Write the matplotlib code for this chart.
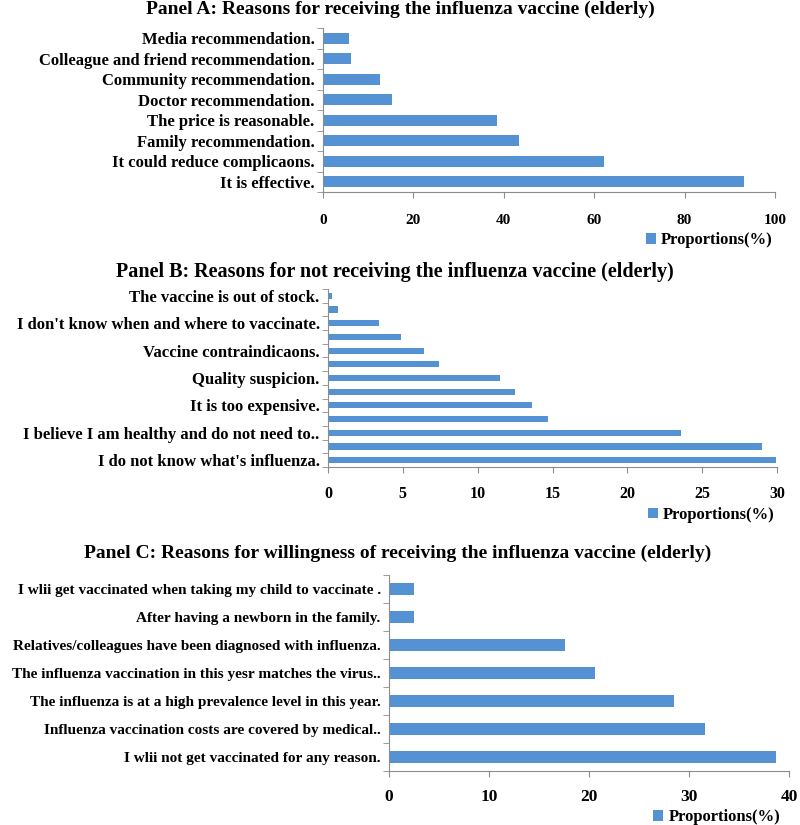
import matplotlib
matplotlib.use("Agg")
import matplotlib.pyplot as plt
import matplotlib.ticker as ticker
import numpy as np

plt.rcParams['font.family'] = ['Liberation Serif', 'DejaVu Serif']
plt.rcParams['font.weight'] = 'bold'

BAR_COLOR = '#5592D4'
AXIS_COLOR = '#8C8C8C'

########################### data (top to bottom) #############################
title_a = "Panel A: Reasons for receiving the influenza vaccine (elderly)"
labels_a = ["Media recommendation.",
            "Colleague and friend recommendation.",
            "Community recommendation.",
            "Doctor recommendation.",
            "The price is reasonable.",
            "Family recommendation.",
            "It could reduce complicaons.",
            "It is effective."]
values_a = [5.8, 6.1, 12.5, 15.3, 38.5, 43.4, 62.2, 93.1]
ticks_a = [0, 20, 40, 60, 80, 100]

title_b = "Panel B: Reasons for not receiving the influenza vaccine (elderly)"
labels_b = ["The vaccine is out of stock.", "",
            "I don't know when and where to vaccinate.", "",
            "Vaccine contraindicaons.", "",
            "Quality suspicion.", "",
            "It is too expensive.", "",
            "I believe I am healthy and do not need to..", "",
            "I do not know what's influenza."]
values_b = [0.3, 0.7, 3.4, 4.9, 6.4, 7.4, 11.5, 12.5, 13.6, 14.7, 23.6, 29.0, 29.9]
ticks_b = [0, 5, 10, 15, 20, 25, 30]

title_c = "Panel C: Reasons for willingness of receiving the influenza vaccine (elderly)"
labels_c = ["I wlii get vaccinated when taking my child to vaccinate .",
            "After having a newborn in the family.",
            "Relatives/colleagues have been diagnosed with influenza.",
            "The influenza vaccination in this yesr matches the virus..",
            "The influenza is at a high prevalence level in this year.",
            "Influenza vaccination costs are covered by medical..",
            "I wlii not get vaccinated for any reason."]
values_c = [2.5, 2.5, 17.6, 20.6, 28.5, 31.6, 38.7]
ticks_c = [0, 10, 20, 30, 40]

legend_label = "Proportions(%)"

W, H = 800, 825
fig = plt.figure(figsize=(W / 100, H / 100), dpi=100)


def px_axes(left, top, right, bottom):
    return fig.add_axes([left / W, 1 - bottom / H, (right - left) / W, (bottom - top) / H])


def panel(ax, labels, values, ticks, bar_h, lab_fs, tick_fs, tick_pad, leg_x, leg_y):
    y = np.arange(len(values))
    bars = ax.barh(y, values, height=bar_h, color=BAR_COLOR, label=legend_label)
    ax.set_ylim(len(values) - 0.5, -0.5)
    ax.set_xlim(ticks[0], ticks[-1])
    ax.set_xticks(ticks)
    ax.set_yticks(y)
    ax.set_yticklabels(labels, fontsize=lab_fs, fontweight='bold')
    ax.yaxis.set_minor_locator(ticker.FixedLocator(np.arange(-0.5, len(values), 1.0)))
    ax.tick_params(axis='y', which='major', length=0, pad=6)
    ax.tick_params(axis='y', which='minor', length=4, color=AXIS_COLOR, direction='out')
    ax.tick_params(axis='x', which='major', length=4, color=AXIS_COLOR, labelsize=tick_fs, pad=tick_pad)
    for t in ax.get_xticklabels():
        t.set_fontweight('bold')
    for s in ['top', 'right']:
        ax.spines[s].set_visible(False)
    for s in ['left', 'bottom']:
        ax.spines[s].set_color(AXIS_COLOR)
    ax.legend(handles=[bars], loc='upper right', bbox_to_anchor=(leg_x, leg_y),
              frameon=False, handlelength=0.6, handleheight=0.6,
              handletextpad=0.3, borderaxespad=0, borderpad=0,
              prop={'weight': 'bold', 'size': 12})


ax_a = px_axes(323, 28, 775, 192)
panel(ax_a, labels_a, values_a, ticks_a, 0.55, 12, 11, 12, 0.995, -0.245)
fig.text(400 / W, 1 - 9 / H, title_a, ha='center', va='center', fontsize=14, fontweight='bold')

ax_b = px_axes(328, 289, 777, 467)
panel(ax_b, labels_b, values_b, ticks_b, 0.45, 12, 11.5, 10, 0.995, -0.225)
fig.text(395 / W, 1 - 272 / H, title_b, ha='center', va='center', fontsize=14.5, fontweight='bold')

ax_c = px_axes(389, 575, 789, 771)
panel(ax_c, labels_c, values_c, ticks_c, 0.4, 11, 12.5, 9, 0.978, -0.195)
fig.text(398 / W, 1 - 553 / H, title_c, ha='center', va='center', fontsize=14, fontweight='bold')

plt.savefig("out.png", dpi=100, facecolor='w')
